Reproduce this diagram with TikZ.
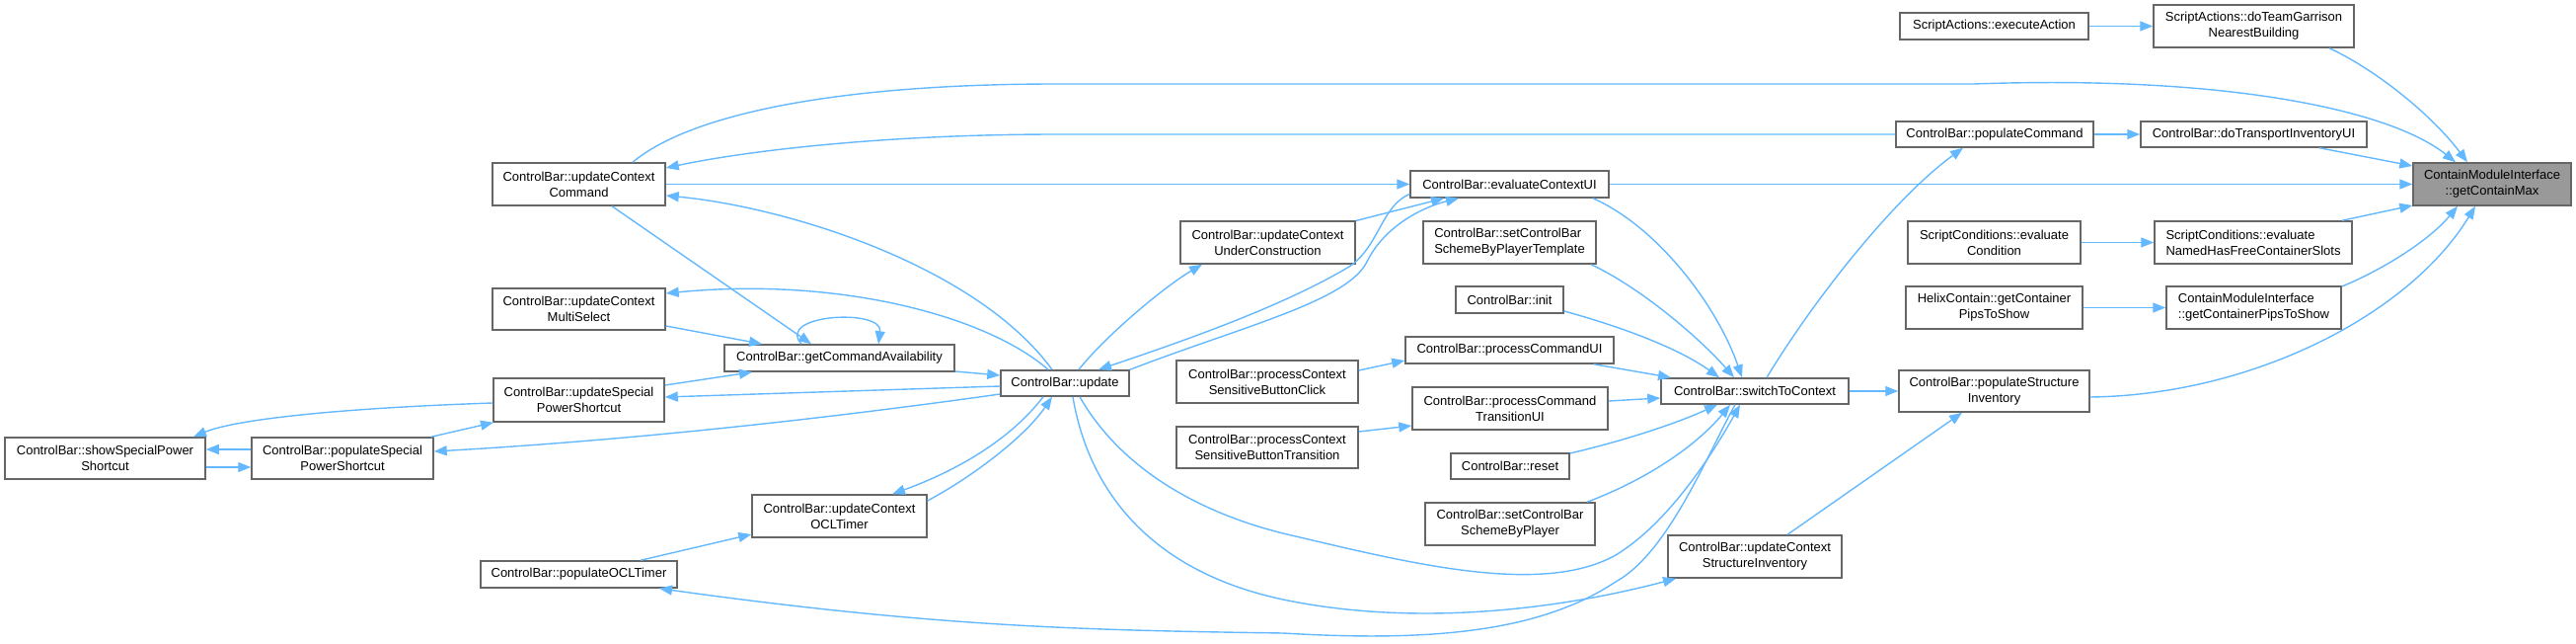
\documentclass[tikz,border=0pt]{standalone}
\usepackage{fontspec}
\setmainfont{Liberation Sans}
\usetikzlibrary{arrows.meta}
\definecolor{edgec}{HTML}{63B8FF}
\definecolor{nodeb}{HTML}{666666}
\definecolor{tgtfill}{HTML}{999999}
\tikzset{
  gbox/.style={draw=nodeb, line width=1.5pt, fill=white, inner sep=0pt, align=center,
    font=\fontsize{13pt}{16pt}\selectfont},
  lbox/.style={gbox, align=left},
  cedge/.style={draw=edgec, line width=1.4pt, -{Triangle[length=13pt,width=10pt]}},
}
\begin{document}
\begin{tikzpicture}[x=1pt,y=-1pt]
\useasboundingbox (0,0) rectangle (2610,652);
% nodes
\node[gbox, minimum width=191, minimum height=27] (execAct) at (2020.5,26.5) {ScriptActions::executeAction};
\node[gbox, minimum width=203, minimum height=43] (garrison) at (2283.5,26.5) {ScriptActions::doTeamGarrison\\NearestBuilding};
\node[gbox, minimum width=200, minimum height=26] (popCmd) at (2021,136) {ControlBar::populateCommand};
\node[gbox, minimum width=229, minimum height=26] (transport) at (2283.5,136) {ControlBar::doTransportInventoryUI};
\node[gbox, fill=tgtfill, minimum width=160, minimum height=43] (target) at (2525,186.5) {ContainModuleInterface\\::getContainMax};
\node[gbox, minimum width=175, minimum height=43] (uccmd) at (586.5,186.5) {ControlBar::updateContext\\Command};
\node[gbox, minimum width=201, minimum height=27] (evalUI) at (1529.5,186.5) {ControlBar::evaluateContextUI};
\node[gbox, minimum width=175, minimum height=43] (evalCond) at (2020.5,245.5) {ScriptConditions::evaluate\\Condition};
\node[lbox, minimum width=200, minimum height=43] (evalNamed) at (2283,245.5) {ScriptConditions::evaluate\\NamedHasFreeContainerSlots};
\node[gbox, minimum width=177, minimum height=43] (underC) at (1284.5,245.5) {ControlBar::updateContext\\UnderConstruction};
\node[lbox, minimum width=175, minimum height=43] (schemeTpl) at (1529.5,245.5) {ControlBar::setControlBar\\SchemeByPlayerTemplate};
\node[gbox, minimum width=109, minimum height=27] (init) at (1529.5,303.5) {ControlBar::init};
\node[gbox, minimum width=179, minimum height=43] (helix) at (2020.5,311.5) {HelixContain::getContainer\\PipsToShow};
\node[lbox, minimum width=177, minimum height=43] (pips) at (2283.5,311.5) {ContainModuleInterface\\::getContainerPipsToShow};
\node[gbox, minimum width=175, minimum height=42] (multi) at (586.5,313) {ControlBar::updateContext\\MultiSelect};
\node[gbox, minimum width=233, minimum height=27] (getCmd) at (850.5,362.5) {ControlBar::getCommandAvailability};
\node[gbox, minimum width=130, minimum height=26] (update) at (1079,388) {ControlBar::update};
\node[gbox, minimum width=184, minimum height=43] (pcsbClick) at (1284,386.5) {ControlBar::processContext\\SensitiveButtonClick};
\node[gbox, minimum width=211, minimum height=27] (pcmdUI) at (1529.5,354.5) {ControlBar::processCommandUI};
\node[gbox, minimum width=173, minimum height=44] (updSpecial) at (586.5,405) {ControlBar::updateSpecial\\PowerShortcut};
\node[gbox, minimum width=190, minimum height=26] (switch) at (1778,396) {ControlBar::switchToContext};
\node[gbox, minimum width=193, minimum height=42] (popStruct) at (2020.5,396) {ControlBar::populateStructure\\Inventory};
\node[gbox, minimum width=198, minimum height=43] (pcmdTrans) at (1530,413.5) {ControlBar::processCommand\\TransitionUI};
\node[gbox, minimum width=203, minimum height=42] (show) at (106.5,464) {ControlBar::showSpecialPower\\Shortcut};
\node[gbox, minimum width=184, minimum height=42] (popSpecial) at (347,464) {ControlBar::populateSpecial\\PowerShortcut};
\node[gbox, minimum width=184, minimum height=42] (pcsbTrans) at (1284,453) {ControlBar::processContext\\SensitiveButtonTransition};
\node[gbox, minimum width=120, minimum height=26] (reset) at (1530,472) {ControlBar::reset};
\node[gbox, minimum width=172, minimum height=43] (scheme) at (1530,530.5) {ControlBar::setControlBar\\SchemeByPlayer};
\node[gbox, minimum width=177, minimum height=43] (ocl) at (850.5,522.5) {ControlBar::updateContext\\OCLTimer};
\node[gbox, minimum width=176, minimum height=43] (structInv) at (1778,563.5) {ControlBar::updateContext\\StructureInventory};
\node[gbox, minimum width=199, minimum height=27] (popOCL) at (586.5,581.5) {ControlBar::populateOCLTimer};

% edges
\draw[cedge] (execAct) -- (garrison);
\draw[cedge] ([xshift=76.5pt]garrison.south) .. controls (2410,72) and (2465,118) .. ([xshift=-25pt]target.north);
\draw[cedge] ([xshift=54.5pt]uccmd.north) .. controls (700,115) and (850,85) .. (1071,85) -- (2000,85) .. controls (2250,76) and (2420,110) .. ([xshift=-37pt]target.north);
\draw[cedge] (popCmd.west) -- (1071,136) .. controls (900,136) and (760,152) .. ([yshift=16.5pt]uccmd.east);
\draw[cedge] (evalUI) -- (target);
\draw[cedge] (uccmd) -- (evalUI);
\draw[cedge] ([xshift=-13pt]update.north) .. controls (990,270) and (800,210) .. ([yshift=-11.5pt]uccmd.east);
\draw[cedge] ([xshift=33.5pt]uccmd.south) -- ([xshift=-28.5pt]getCmd.north);
\draw[cedge] ([xshift=-38.5pt]getCmd.north) .. controls (785,318) and (895,312) .. ([xshift=39.5pt]getCmd.north);
\draw[cedge] ([yshift=-13.5pt]getCmd.east) -- ([yshift=8pt]update.west);
\draw[cedge] ([yshift=-17pt]multi.east) -- ([xshift=-78.5pt]getCmd.north);
\draw[cedge] ([xshift=-17pt]update.north) .. controls (1000,320) and (850,280) .. ([yshift=16pt]multi.east);
\draw[cedge] ([yshift=15pt]updSpecial.east) -- ([xshift=-88.5pt]getCmd.south);
\draw[cedge] ([yshift=-3pt]update.west) -- ([yshift=3pt]updSpecial.east);
\draw[cedge] ([yshift=-11pt]update.west) .. controls (850,422) and (650,445) .. ([yshift=7pt]popSpecial.east);
\draw[cedge] ([xshift=90pt]popSpecial.north) -- ([xshift=-86.5pt]updSpecial.south);
\draw[cedge] ([yshift=9pt]popSpecial.west) -- ([yshift=9pt]show.east);
\draw[cedge] ([yshift=-9pt]show.east) -- ([yshift=-9pt]popSpecial.west);
\draw[cedge] ([yshift=-3pt]updSpecial.west) .. controls (350,413) and (240,424) .. ([xshift=89.5pt]show.north);
\draw[cedge] ([xshift=14pt]update.north) .. controls (1120,340) and (1180,290) .. ([xshift=-66.5pt]underC.south);
\draw[cedge] ([yshift=22pt]underC.east) -- ([xshift=-66.5pt]evalUI.south);
\draw[cedge] ([yshift=-10pt]evalUI.west) .. controls (1400,208) and (1397,250) .. (1367,270) .. controls (1300,310) and (1200,345) .. ([xshift=34pt]update.north);
\draw[cedge] (update.north east) .. controls (1260,330) and (1365,305) .. (1385,265) .. controls (1402,230) and (1440,210) .. ([xshift=-51.5pt]evalUI.south);
\draw[cedge] ([xshift=84.5pt]evalUI.south) .. controls (1680,230) and (1740,310) .. ([xshift=-13pt]switch.north);
\draw[cedge] ([xshift=82.5pt]schemeTpl.south) .. controls (1660,290) and (1720,340) .. ([xshift=-21pt]switch.north);
\draw[cedge] ([yshift=-11.5pt]init.east) .. controls (1640,330) and (1700,352) .. ([xshift=-36pt]switch.north);
\draw[cedge] ([xshift=12pt]switch.north) .. controls (1840,300) and (1920,200) .. ([xshift=-32pt]popCmd.south);
\draw[cedge] (popCmd) -- (transport);
\draw[cedge] ([xshift=66.5pt]transport.south) -- ([yshift=18.5pt]target.west);
\draw[cedge] ([xshift=85.5pt]pcmdUI.south) -- ([xshift=-85pt]switch.north);
\draw[cedge] ([yshift=7.5pt]pcmdTrans.east) -- ([yshift=-7pt]switch.west);
\draw[cedge] ([yshift=13pt]reset.east) .. controls (1650,445) and (1700,428) .. ([xshift=-38pt]switch.south);
\draw[cedge] ([xshift=78pt]scheme.north) .. controls (1670,485) and (1720,450) .. ([xshift=-25pt]switch.south);
\draw[cedge] ([xshift=15pt]update.south) .. controls (1130,465) and (1200,515) .. (1300,540) .. controls (1420,568) and (1560,605) .. (1637,562) .. controls (1690,530) and (1735,460) .. ([xshift=-15pt]switch.south);
\draw[cedge] ([xshift=8pt]update.south) .. controls (1100,480) and (1150,575) .. (1300,607) .. controls (1420,632) and (1560,622) .. ([xshift=-80pt]structInv.south);
\draw[cedge] ([xshift=-20pt]switch.south) .. controls (1730,460) and (1690,560) .. (1637,589) .. controls (1560,640) and (1450,650) .. (1300,641) .. controls (1100,638) and (950,635) .. ([xshift=81.5pt]popOCL.south);
\draw[cedge] ([xshift=33pt]structInv.north) -- ([xshift=-32.5pt]popStruct.south);
\draw[cedge] (switch) -- (popStruct);
\draw[cedge] ([yshift=-6pt]popStruct.east) .. controls (2280,400) and (2440,320) .. ([xshift=-17pt]target.south);
\draw[cedge] ([yshift=21.5pt]pips.east) .. controls (2410,275) and (2460,245) .. ([xshift=-35pt]target.south);
\draw[cedge] (helix) -- (pips);
\draw[cedge] (evalCond) -- (evalNamed);
\draw[cedge] ([xshift=90pt]evalNamed.north) -- ([yshift=-21.5pt]target.west);
\draw[cedge] ([xshift=-22pt]update.south) .. controls (1020,450) and (960,480) .. ([xshift=53.5pt]ocl.north);
\draw[cedge] ([yshift=15.5pt]ocl.east) .. controls (990,480) and (1040,440) .. ([xshift=-13pt]update.south);
\draw[cedge] ([xshift=62.5pt]popOCL.north) -- ([yshift=-18.5pt]ocl.west);
\draw[cedge] ([yshift=11.5pt]pcsbClick.east) -- ([yshift=-10.5pt]pcmdUI.west);
\draw[cedge] ([yshift=16pt]pcsbTrans.east) -- ([yshift=-17.5pt]pcmdTrans.west);
\end{tikzpicture}
\end{document}
